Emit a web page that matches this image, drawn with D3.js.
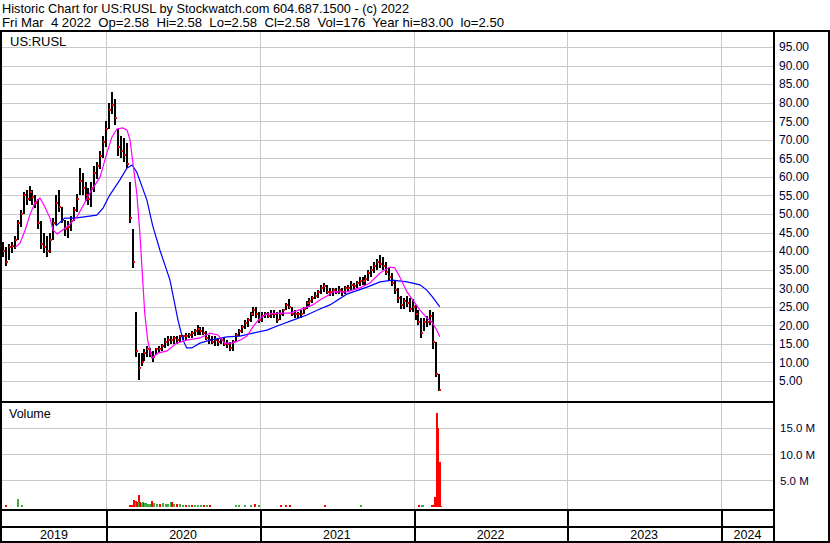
<!DOCTYPE html>
<html><head><meta charset="utf-8">
<script src="https://cdn.jsdelivr.net/npm/d3@7"></script>
<style>
body{margin:0;background:#fff}
svg{display:block;font-family:Arial,"Liberation Sans",sans-serif}
</style>
</head><body>
<svg id="c" width="830" height="543"></svg>
<script>
// ---------- data ----------
const titleLine = "Historic Chart for US:RUSL by Stockwatch.com 604.687.1500 - (c) 2022";
const infoLine = "Fri Mar  4 2022  Op=2.58  Hi=2.58  Lo=2.58  Cl=2.58  Vol=176  Year hi=83.00  lo=2.50";
const symbolLabel = "US:RUSL";
const volumeLabel = "Volume";

const firstWeek = "2019-04-29"; // weekly bars, one per week from here
const weekHigh = [42.5,41,42,42.5,44,48.5,51,56,56.5,57.5,
 56.5,55,54,48,45,44,45,49,55,56.5,
 52,48.5,48,49.5,52,55.5,62.5,61,58.5,57,
 58.5,63,64,67,71,75,80,83,81,73,
 71,70.5,69,58.5,46,23.5,12.5,12.5,13.5,14.5,
 14,13,14,14.5,15,16.5,17,17,17,17,
 17.5,17.5,18,18,18.5,19,20,19.5,19.5,18.5,
 17.5,17,17,16.5,16.5,16.5,16,15.5,16,18,
 19,20,21.5,22,23.5,25,25,23.5,23.5,23.5,
 23.5,24,24,23.5,24,24.5,26,27,25,24,
 23.5,24,25,26.5,27.5,28,29,29.5,31,31.5,
 31,30,30,30,30.5,30,30.5,31,32,31.5,
 32,33,33,33.5,35,36,37,38,39,38.5,
 37,35.5,34,32,30,28,27.5,28,27.5,27,
 25.5,24,22,22,22.5,24,23.5,15.5,7];
const weekLow = [38.5,36,37.5,39.5,40.5,43,46.5,50,52.5,53.5,
 52.5,51.5,46,40.5,39.5,38.5,39.5,43,47,50.5,
 47.5,44,43.5,45.5,48,50.5,55,55,53.5,52.5,
 52,56,59.5,62,65,68,73,77,74,65.5,
 65,64,62.5,47.5,35.5,11.5,5.2,9,10.5,11.5,
 11.5,10,12,12.5,13,14,14.5,15,15,15,
 15.5,16,16,16.5,16.5,17,17.5,17.5,17.5,16,
 15,15,14.5,14.5,15,14.5,14,13,13,15.5,
 17,18,19,19.5,21,22.5,22,20.5,21,22,
 22,22,22,20.5,21.5,22.5,24,24.5,22.5,22,
 22,22,23,24.5,25,26,27,27.5,28.5,29,
 28.5,28,28,28.5,28.5,28,28.5,29,29.5,29.5,
 30,30.5,31,31,32,33,34,35,35.5,35,
 33.5,32,30.5,28.5,26,24.5,24.5,25,23.5,23.5,
 21.5,20,16.5,18.5,19.5,20,13.5,6,2.3];
const weekClose = [40,37,41,41.5,43,47.5,50,55,54,56,
 54.5,53,47.5,42,41,40,43,47.5,53,52,
 48.5,46,46.5,48,51,54,59,57,55,54,
 57,61,63,65.5,69.5,73,78,79.5,76,68,
 67,66,63.5,49,37,13,8.5,10,12.5,13.5,
 12.5,11.5,13.5,13.5,14.5,15.5,16,16,16.5,16,
 17,17,17,17.5,18,18.5,19,18.5,18,16.5,
 16,15.5,16,15.5,16,15,15,14,15.5,17.5,
 18.5,19.5,20.5,21.5,23,24,23,21.5,22.5,23,
 22.5,23,23,21.5,23,24,25.5,25,23,23,
 23,23,24.5,26,26.5,27.5,28,29,30,30.5,
 29,29,29.5,29,29.5,29,30,30,31,30.5,
 31.5,32,32,32.5,34,35,36,37,36.5,36,
 34.5,33,31.5,29.5,27.5,25.5,26.5,26,24.5,25,
 23,21,18,21,21,22.5,15.5,7,2.58];

// short moving average (magenta)
const fastMA = [["2019-05-30",41],["2019-06-11",42.2],["2019-06-23",45.7],["2019-07-04",49.7],["2019-07-16",53],
 ["2019-07-28",54.3],["2019-08-09",51.9],["2019-08-21",48.9],["2019-08-28",45.7],["2019-09-07",44.6],
 ["2019-09-14",45.2],["2019-09-30",46.5],["2019-10-12",47.8],["2019-10-24",49.2],["2019-11-24",55.7],
 ["2019-12-18",60],["2020-01-03",66.4],["2020-01-15",70.7],["2020-01-27",72.9],["2020-02-10",73.2],
 ["2020-02-20",72.6],["2020-02-27",70],["2020-03-05",63.7],["2020-03-14",55.7],["2020-03-21",45.7],
 ["2020-03-26",36.3],["2020-04-02",23.3],["2020-04-09",16],["2020-04-19",11.2],["2020-05-03",12.5],
 ["2020-05-25",13.1],["2020-06-17",15.2],["2020-07-11",16],["2020-08-11",16.6],["2020-09-04",17.9],
 ["2020-09-23",17.4],["2020-10-09",15.2],["2020-10-28",15.2],["2020-11-14",16],["2020-12-01",17.1],
 ["2020-12-15",19.6],["2021-01-01",22],["2021-01-17",23],["2021-02-17",23.3],["2021-03-13",23.3],
 ["2021-03-29",23.9],["2021-04-17",24.7],["2021-05-06",25.5],["2021-05-23",26.8],["2021-06-09",27.9],
 ["2021-06-23",29],["2021-07-26",29],["2021-08-26",30.1],["2021-09-19",31.4],["2021-10-13",34.1],
 ["2021-11-05",35.7],["2021-11-17",35.5],["2021-11-29",33],["2021-12-16",29],["2021-12-30",26.8],
 ["2022-01-16",24.1],["2022-02-01",22],["2022-02-13",20.9],["2022-02-25",18.7],["2022-03-04",16.9]];

// long moving average (blue)
const slowMA = [["2019-09-04",46.8],["2019-09-25",48.9],["2019-10-19",48.9],["2019-12-10",49.7],["2019-12-25",51.6],
 ["2020-01-10",55.1],["2020-02-03",59.2],["2020-02-20",62.4],["2020-03-03",63.2],["2020-03-14",61.3],
 ["2020-04-07",53.8],["2020-04-21",46.8],["2020-05-08",40.3],["2020-06-01",32.2],["2020-06-20",21.4],
 ["2020-07-02",16],["2020-07-11",13.9],["2020-07-23",13.9],["2020-08-11",15.2],["2020-09-04",16],
 ["2020-10-14",16.9],["2020-11-14",17.1],["2020-12-15",17.9],["2021-01-17",18.7],["2021-02-17",20.1],
 ["2021-03-20",21.4],["2021-04-22",22.8],["2021-05-23",24.4],["2021-06-16",25.5],["2021-07-26",28.4],
 ["2021-09-12",30.3],["2021-10-13",31.7],["2021-11-12",32.2],["2021-12-16",31.7],["2022-01-16",30.9],
 ["2022-02-01",29.5],["2022-02-15",27.6],["2022-03-04",25]];

// daily volume (millions), up = 1 (green) / down = 0 (red)
const volDates = ["2019-05-07","2019-06-03","2019-06-14","2020-02-24","2020-02-27","2020-03-02","2020-03-05","2020-03-09",
 "2020-03-11","2020-03-13","2020-03-16","2020-03-18","2020-03-20","2020-03-24","2020-03-26","2020-03-30","2020-04-01",
 "2020-04-03","2020-04-08","2020-04-13","2020-04-16","2020-04-21","2020-04-28","2020-05-05","2020-05-12","2020-05-19",
 "2020-05-26","2020-06-02","2020-06-04","2020-06-09","2020-06-16","2020-06-23","2020-06-30","2020-07-07","2020-07-14",
 "2020-07-21","2020-07-28","2020-08-04","2020-08-12","2020-08-19","2020-08-26","2020-09-01","2020-11-02","2020-11-09",
 "2020-11-23","2020-12-07","2020-12-17","2020-12-28","2021-02-18","2021-03-01","2021-03-10","2021-06-01","2021-08-26",
 "2022-01-12","2022-01-18","2022-01-21","2022-02-10","2022-02-14","2022-02-18","2022-02-22","2022-02-25","2022-03-02","2022-03-04"];
const volMillions = [0.3,1.5,0.3,0.3,0.3,0.3,1.3,1.0,
 0.8,0.9,2.2,0.9,0.8,0.7,0.8,0.6,0.7,
 0.6,0.5,0.4,1.0,0.6,0.5,0.4,0.6,0.5,
 0.4,0.9,0.8,0.5,0.4,0.4,0.3,0.3,0.3,
 0.3,0.3,0.3,0.3,0.3,0.3,0.3,0.3,0.3,
 0.3,0.3,0.4,0.3,0.3,0.3,0.3,0.3,0.3,
 0.3,0.3,0.3,0.3,0.3,1.8,18,15,8.6,0.000176];
const volUp = [0,1,1,0,0,0,0,0,
 1,0,0,1,0,1,1,0,1,
 1,1,1,0,1,1,0,1,1,
 1,1,0,1,0,1,1,0,1,
 0,1,1,1,0,1,0,1,1,
 1,1,0,1,0,0,0,0,1,
 0,1,1,0,0,0,0,0,0,0];

const priceTicks = [5,10,15,20,25,30,35,40,45,50,55,60,65,70,75,80,85,90,95];
const volTicks = [5,10,15];
const yearLabels = ["2019","2020","2021","2022","2023","2024"];

// ---------- layout ----------
const L = 2, R = 774;          // plot area left/right
const PT = 32, PB = 401;       // price panel
const VT = 402, VB = 509;      // volume panel
const BB = 541;                // label row bottom

const parse = d3.utcParse("%Y-%m-%d");
const x = d3.scaleUtc()
  .domain([parse("2020-01-01"), parse("2024-01-01")])
  .range([106, 721]);
const y = d3.scaleLinear().domain([5, 95]).range([381, 47]);
const yv = d3.scaleLinear().domain([0, 15]).range([506.5, 428.3]);

const svg = d3.select("#c");
const GRID = "#c8c8c8";

// header text
const hdr = svg.append("g").attr("fill", "#000").style("font-size", "13.5px");
hdr.append("text").attr("x", 2).attr("y", 12.5).attr("xml:space", "preserve")
  .style("white-space", "pre").attr("textLength", 407).attr("lengthAdjust", "spacingAndGlyphs").text(titleLine);
hdr.append("text").attr("x", 2).attr("y", 26.5).attr("xml:space", "preserve")
  .style("white-space", "pre").attr("textLength", 502).attr("lengthAdjust", "spacingAndGlyphs").text(infoLine);

// clip paths
svg.append("clipPath").attr("id", "pclip").append("rect")
  .attr("x", L).attr("y", PT).attr("width", R - L - 1).attr("height", PB - PT - 1);
svg.append("clipPath").attr("id", "vclip").append("rect")
  .attr("x", L).attr("y", VT).attr("width", R - L - 1).attr("height", VB - VT - 1);

// grid lines
const grid = svg.append("g").attr("stroke", GRID).attr("stroke-width", 1).attr("shape-rendering", "crispEdges");
grid.selectAll("line.hp").data(priceTicks).join("line")
  .attr("x1", L).attr("x2", R)
  .attr("y1", d => Math.round(y(d)) + 0.5).attr("y2", d => Math.round(y(d)) + 0.5);
grid.selectAll("line.hv").data(volTicks).join("line")
  .attr("x1", L).attr("x2", R)
  .attr("y1", d => Math.round(yv(d)) + 0.5).attr("y2", d => Math.round(yv(d)) + 0.5);

const yearStarts = yearLabels.map(s => parse(s + "-01-01"));
const bounds = yearStarts.filter(d => x(d) > L + 2 && x(d) < R - 2);
grid.selectAll("line.yv").data(bounds).join("line")
  .attr("x1", d => Math.round(x(d)) + 0.5).attr("x2", d => Math.round(x(d)) + 0.5)
  .attr("y1", PT).attr("y2", VB);

// price bars (weekly high-low, red close tick)
const start = parse(firstWeek);
const n = Math.min(weekHigh.length, weekLow.length, weekClose.length);
const bars = d3.range(n).map(i => ({
  date: d3.utcDay.offset(start, 7 * i),
  hi: weekHigh[i], lo: weekLow[i], cl: weekClose[i]
}));
const pg = svg.append("g").attr("clip-path", "url(#pclip)").attr("shape-rendering", "crispEdges");
pg.selectAll("rect.bar").data(bars).join("rect")
  .attr("x", d => Math.round(x(d.date)))
  .attr("width", 2)
  .attr("y", d => Math.round(y(d.hi)))
  .attr("height", d => Math.max(1, Math.round(y(d.lo)) - Math.round(y(d.hi))))
  .attr("fill", "#000");
pg.selectAll("rect.cl").data(bars).join("rect")
  .attr("x", d => Math.round(x(d.date)) + 1)
  .attr("width", 2)
  .attr("y", d => Math.round(y(d.cl)) - 1)
  .attr("height", 2)
  .attr("fill", "#ff0000");

// moving averages
const line = d3.line().x(d => x(parse(d[0]))).y(d => y(d[1]));
const mg = svg.append("g").attr("clip-path", "url(#pclip)").attr("fill", "none");
mg.append("path").attr("d", line(slowMA)).attr("stroke", "#0000ff").attr("stroke-width", 1.2);
mg.append("path").attr("d", line(fastMA)).attr("stroke", "#ff00ff").attr("stroke-width", 1.2);

// volume bars
const vols = volDates.map((d, i) => ({ date: parse(d), v: volMillions[i], up: volUp[i] }));
svg.append("g").attr("clip-path", "url(#vclip)").attr("shape-rendering", "crispEdges")
  .selectAll("rect").data(vols).join("rect")
  .attr("x", d => Math.round(x(d.date)))
  .attr("width", 2)
  .attr("y", d => yv(d.v))
  .attr("height", d => yv(0) - yv(d.v))
  .attr("fill", d => d.up ? "#3fae3f" : "#ff0000");

// panel labels
svg.append("text").attr("x", 10).attr("y", 45.5).style("font-size", "13px").text(symbolLabel);
svg.append("text").attr("x", 9).attr("y", 417.5).style("font-size", "12.5px").text(volumeLabel);

// right axes
const pAxis = d3.axisRight(y).tickValues(priceTicks).tickFormat(d3.format(".2f")).tickSize(0).tickPadding(5);
const pa = svg.append("g").attr("transform", `translate(${R},0)`).call(pAxis);
pa.select(".domain").remove();
pa.selectAll("text").attr("fill", "#000033").style("font-size", "12px").style("font-family", "Arial, 'Liberation Sans', sans-serif");

const vAxis = d3.axisRight(yv).tickValues(volTicks).tickFormat(d => d.toFixed(1) + " M").tickSize(0).tickPadding(6);
const va = svg.append("g").attr("transform", `translate(${R},0)`).call(vAxis);
va.select(".domain").remove();
va.selectAll("text").attr("fill", "#000033").style("font-size", "11.5px").style("font-family", "Arial, 'Liberation Sans', sans-serif");

// year labels (centred in each year's span)
const yl = svg.append("g").style("font-size", "12.5px").attr("text-anchor", "middle").attr("fill", "#000");
yl.selectAll("text").data(yearLabels).join("text")
  .attr("x", (s, i) => {
    const a = Math.max(L, x(yearStarts[i]));
    const b = Math.min(R, x(d3.utcYear.offset(yearStarts[i], 1)));
    return (a + b) / 2;
  })
  .attr("y", 539)
  .text(s => s);

// frame lines (black)
const fr = svg.append("g").attr("stroke", "#000").attr("stroke-width", 2).attr("shape-rendering", "crispEdges");
[[0, 31, 829, 31], [0, 401.5, R, 401.5], [0, 509.5, R, 509.5], [0, 526.5, R, 526.5], [0, 541.5, 829, 541.5],
 [1, 30, 1, 542.5], [R, 30, R, 542.5], [828.5, 30, 828.5, 542.5]]
  .forEach(c => fr.append("line").attr("x1", c[0]).attr("y1", c[1]).attr("x2", c[2]).attr("y2", c[3]));
fr.selectAll("line.ys").data(bounds).join("line")
  .attr("x1", d => Math.round(x(d)) + 0.5).attr("x2", d => Math.round(x(d)) + 0.5)
  .attr("y1", VB).attr("y2", BB);
</script>
</body></html>
